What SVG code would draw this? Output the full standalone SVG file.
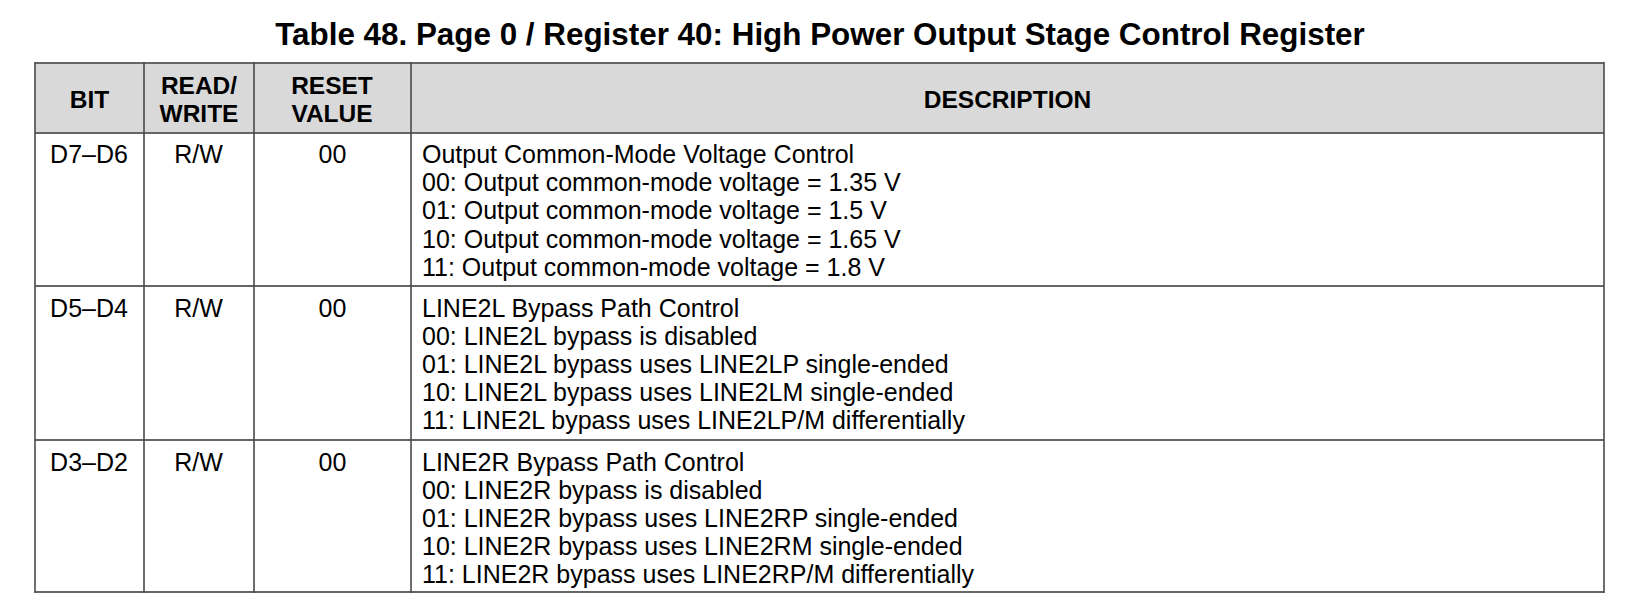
<svg xmlns="http://www.w3.org/2000/svg" width="1648" height="604" viewBox="0 0 1648 604">
  <style>
    .title { font-family: "Liberation Sans", Arial, sans-serif; font-weight: bold; font-size: 31.4px; fill: #000; }
    .hdr { font-family: "Liberation Sans", Arial, sans-serif; font-weight: bold; font-size: 24.5px; fill: #000; text-anchor: middle; }
    .body { font-family: "Liberation Sans", Arial, sans-serif; font-size: 25px; fill: #000; }
    .c { text-anchor: middle; }
    .hline { stroke: #666; stroke-width: 2.2; fill: none; }
    .vline { stroke: #4a4a4a; stroke-width: 1.6; fill: none; }
  </style>
  <rect x="0" y="0" width="1648" height="604" fill="#fff"/>

  <g id="title">
    <text class="title" x="820" y="45" text-anchor="middle">Table 48. Page 0 / Register 40: High Power Output Stage Control Register</text>
  </g>

  <g id="header">
    <rect x="35" y="63" width="1569" height="70" fill="#d9d9d9"/>
    <text class="hdr" x="89.5" y="108">BIT</text>
    <text class="hdr" x="199" y="93.5">READ/</text>
    <text class="hdr" x="199" y="121.5">WRITE</text>
    <text class="hdr" x="332" y="93.5">RESET</text>
    <text class="hdr" x="332" y="121.5">VALUE</text>
    <text class="hdr" x="1007.5" y="108">DESCRIPTION</text>
  </g>

  <g id="row-d7-d6">
    <text class="body c" x="89" y="163">D7–D6</text>
    <text class="body c" x="198.5" y="163">R/W</text>
    <text class="body c" x="332.5" y="163">00</text>
    <text class="body" x="422" y="163">Output Common-Mode Voltage Control</text>
    <text class="body" x="422" y="191.2">00: Output common-mode voltage = 1.35 V</text>
    <text class="body" x="422" y="219.4">01: Output common-mode voltage = 1.5 V</text>
    <text class="body" x="422" y="247.6">10: Output common-mode voltage = 1.65 V</text>
    <text class="body" x="422" y="275.8">11: Output common-mode voltage = 1.8 V</text>
  </g>

  <g id="row-d5-d4">
    <text class="body c" x="89" y="316.5">D5–D4</text>
    <text class="body c" x="198.5" y="316.5">R/W</text>
    <text class="body c" x="332.5" y="316.5">00</text>
    <text class="body" x="422" y="316.5">LINE2L Bypass Path Control</text>
    <text class="body" x="422" y="344.6">00: LINE2L bypass is disabled</text>
    <text class="body" x="422" y="372.7">01: LINE2L bypass uses LINE2LP single-ended</text>
    <text class="body" x="422" y="400.8">10: LINE2L bypass uses LINE2LM single-ended</text>
    <text class="body" x="422" y="428.9">11: LINE2L bypass uses LINE2LP/M differentially</text>
  </g>

  <g id="row-d3-d2">
    <text class="body c" x="89" y="470.5">D3–D2</text>
    <text class="body c" x="198.5" y="470.5">R/W</text>
    <text class="body c" x="332.5" y="470.5">00</text>
    <text class="body" x="422" y="470.5">LINE2R Bypass Path Control</text>
    <text class="body" x="422" y="498.6">00: LINE2R bypass is disabled</text>
    <text class="body" x="422" y="526.7">01: LINE2R bypass uses LINE2RP single-ended</text>
    <text class="body" x="422" y="554.8">10: LINE2R bypass uses LINE2RM single-ended</text>
    <text class="body" x="422" y="582.9">11: LINE2R bypass uses LINE2RP/M differentially</text>
  </g>

  <g id="grid">
    <line class="hline" x1="35" y1="63" x2="1604" y2="63"/>
    <line class="hline" x1="35" y1="133" x2="1604" y2="133"/>
    <line class="hline" x1="35" y1="286" x2="1604" y2="286"/>
    <line class="hline" x1="35" y1="440" x2="1604" y2="440"/>
    <line class="hline" x1="35" y1="592" x2="1604" y2="592"/>
    <line class="vline" x1="35" y1="62" x2="35" y2="593"/>
    <line class="vline" x1="144" y1="62" x2="144" y2="593"/>
    <line class="vline" x1="254" y1="62" x2="254" y2="593"/>
    <line class="vline" x1="411" y1="62" x2="411" y2="593"/>
    <line class="vline" x1="1604" y1="62" x2="1604" y2="593"/>
  </g>
</svg>
